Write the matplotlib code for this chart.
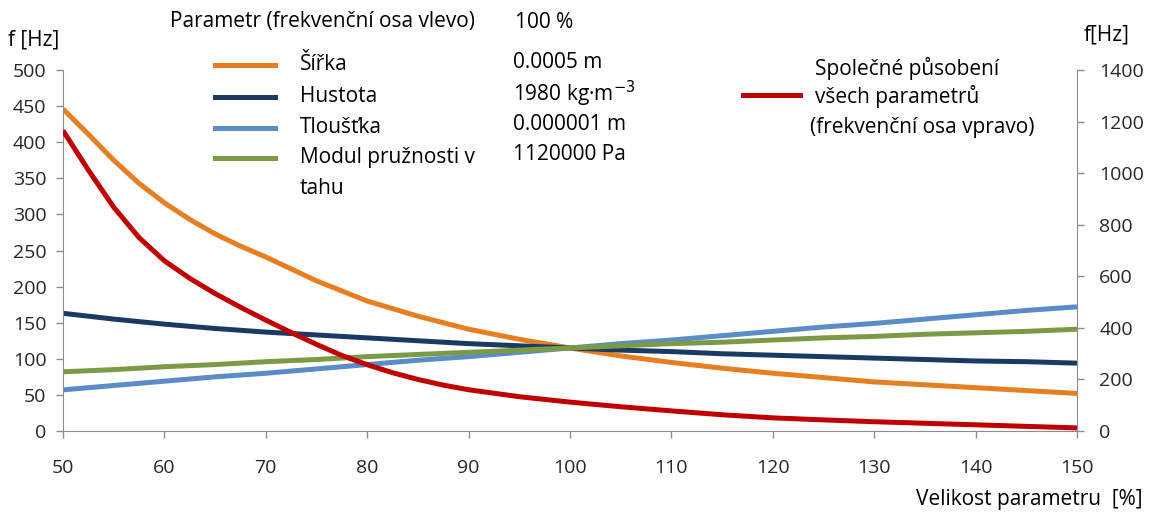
import matplotlib
matplotlib.use("Agg")
import matplotlib.pyplot as plt
from matplotlib.lines import Line2D

plt.rcParams['font.family'] = ['Open Sans', 'DejaVu Sans']

# parameter size [%]
x = [50, 55, 60, 65, 70, 75, 80, 85, 90, 95, 100,
     105, 110, 115, 120, 125, 130, 135, 140, 145, 150]

# left axis series [Hz]
sirka_x = [50, 52.5, 55, 57.5, 60, 62.5, 65, 67.5, 70, 75, 80, 85, 90, 95, 100,
           105, 110, 115, 120, 125, 130, 135, 140, 145, 150]
sirka = [446, 411, 375, 343, 316, 293, 273, 256, 241, 208, 180, 159, 141, 127, 115,
         104, 95, 87, 80, 74, 68, 64, 60, 56, 52]
hustota = [163, 155, 148, 142, 137, 133, 129, 125, 121, 118, 115,
           112, 110, 107, 105, 103, 101, 99, 97, 96, 94]
tloustka = [57, 63, 69, 75, 80, 86, 92, 98, 103, 109, 115,
            121, 126, 132, 138, 144, 149, 155, 161, 167, 172]
modul = [82, 85, 89, 92, 96, 99, 103, 106, 109, 112, 115,
         118, 121, 123, 126, 129, 131, 134, 136, 138, 141]

# right axis series [Hz]
red_x = [50, 52.5, 55, 57.5, 60, 62.5, 65, 67.5, 70, 72.5, 75, 77.5, 80, 82.5,
         85, 87.5, 90, 95, 100, 105, 110, 115, 120, 125, 130, 135, 140, 145, 150]
spolecne = [1165, 1012, 868, 750, 660, 592, 533, 480, 430, 382, 336, 293, 257, 226,
            200, 178, 160, 133, 112, 94, 78, 63, 51, 43, 36, 30, 24, 18, 12]

names = ["Šířka", "Hustota", "Tloušťka", "Modul pružnosti v\ntahu"]
values = ["0.0005 m", "1980 kg·m$^{-3}$", "0.000001 m", "1120000 Pa"]
colors = ["#E67E22", "#1B3A63", "#5A8CC8", "#7A9A45"]
red = "#C00000"

W, H = 1150, 515
fig = plt.figure(figsize=(W / 100, H / 100), dpi=100)
ax = fig.add_axes([63 / W, 1 - 431 / H, (1077 - 63) / W, (431 - 70) / H])
ax2 = ax.twinx()

series = [(sirka_x, sirka), (x, hustota), (x, tloustka), (x, modul)]
for (xs, ys), c in zip(series, colors):
    ax.plot(xs, ys, color=c, lw=3.6, solid_capstyle='butt')
ax2.plot(red_x, spolecne, color=red, lw=3.6, solid_capstyle='butt')

ax.set_xlim(50, 150)
ax.set_ylim(0, 500)
ax2.set_ylim(0, 1400)
ax.set_xticks(range(50, 151, 10))
ax.set_yticks(range(0, 501, 50))
ax2.set_yticks(range(0, 1401, 200))

gray = "#8C8C8C"
for a in (ax, ax2):
    for s in a.spines.values():
        s.set_visible(False)
    a.tick_params(colors=gray, labelcolor="#262626", labelsize=14, length=5, width=1)
ax.spines['left'].set_visible(True)
ax.spines['bottom'].set_visible(True)
ax2.spines['right'].set_visible(True)
for s in (ax.spines['left'], ax.spines['bottom'], ax2.spines['right']):
    s.set_color(gray)
ax.tick_params(axis='y', pad=7)
ax.tick_params(axis='x', pad=15)
ax2.tick_params(axis='y', pad=11)


def fx(px):
    return px / W


def fy(py):
    return 1 - py / H


fs = 15
fig.text(fx(8), fy(40), "f [Hz]", fontsize=fs, va='center')
fig.text(fx(1084), fy(35), "f[Hz]", fontsize=fs, va='center')
fig.text(fx(1142), fy(500), "Velikost parametru  [%]", fontsize=fs, va='center', ha='right')

fig.text(fx(170), fy(22), "Parametr (frekvenční osa vlevo)", fontsize=fs, va='center')
fig.text(fx(515), fy(22), "100 %", fontsize=fs, va='center')

rows = [65, 97, 128, 158]
for name, val, c, ry in zip(names, values, colors, rows):
    fig.add_artist(Line2D([fx(215), fx(275)], [fy(ry), fy(ry)], color=c, lw=3.6))
    first, *rest = name.split("\n")
    fig.text(fx(300), fy(ry), first, fontsize=fs, va='center')
    for k, line in enumerate(rest):
        fig.text(fx(300), fy(ry + 30 * (k + 1)), line, fontsize=fs, va='center')
    fig.text(fx(513), fy(ry - 3), val, fontsize=fs, va='center')

fig.add_artist(Line2D([fx(743), fx(800)], [fy(95), fy(95)], color=red, lw=3.6))
fig.text(fx(815), fy(68), "Společné působení", fontsize=fs, va='center')
fig.text(fx(815), fy(97), "všech parametrů", fontsize=fs, va='center')
fig.text(fx(810), fy(128), "(frekvenční osa vpravo)", fontsize=fs, va='center')

fig.savefig("out.png", dpi=100)
